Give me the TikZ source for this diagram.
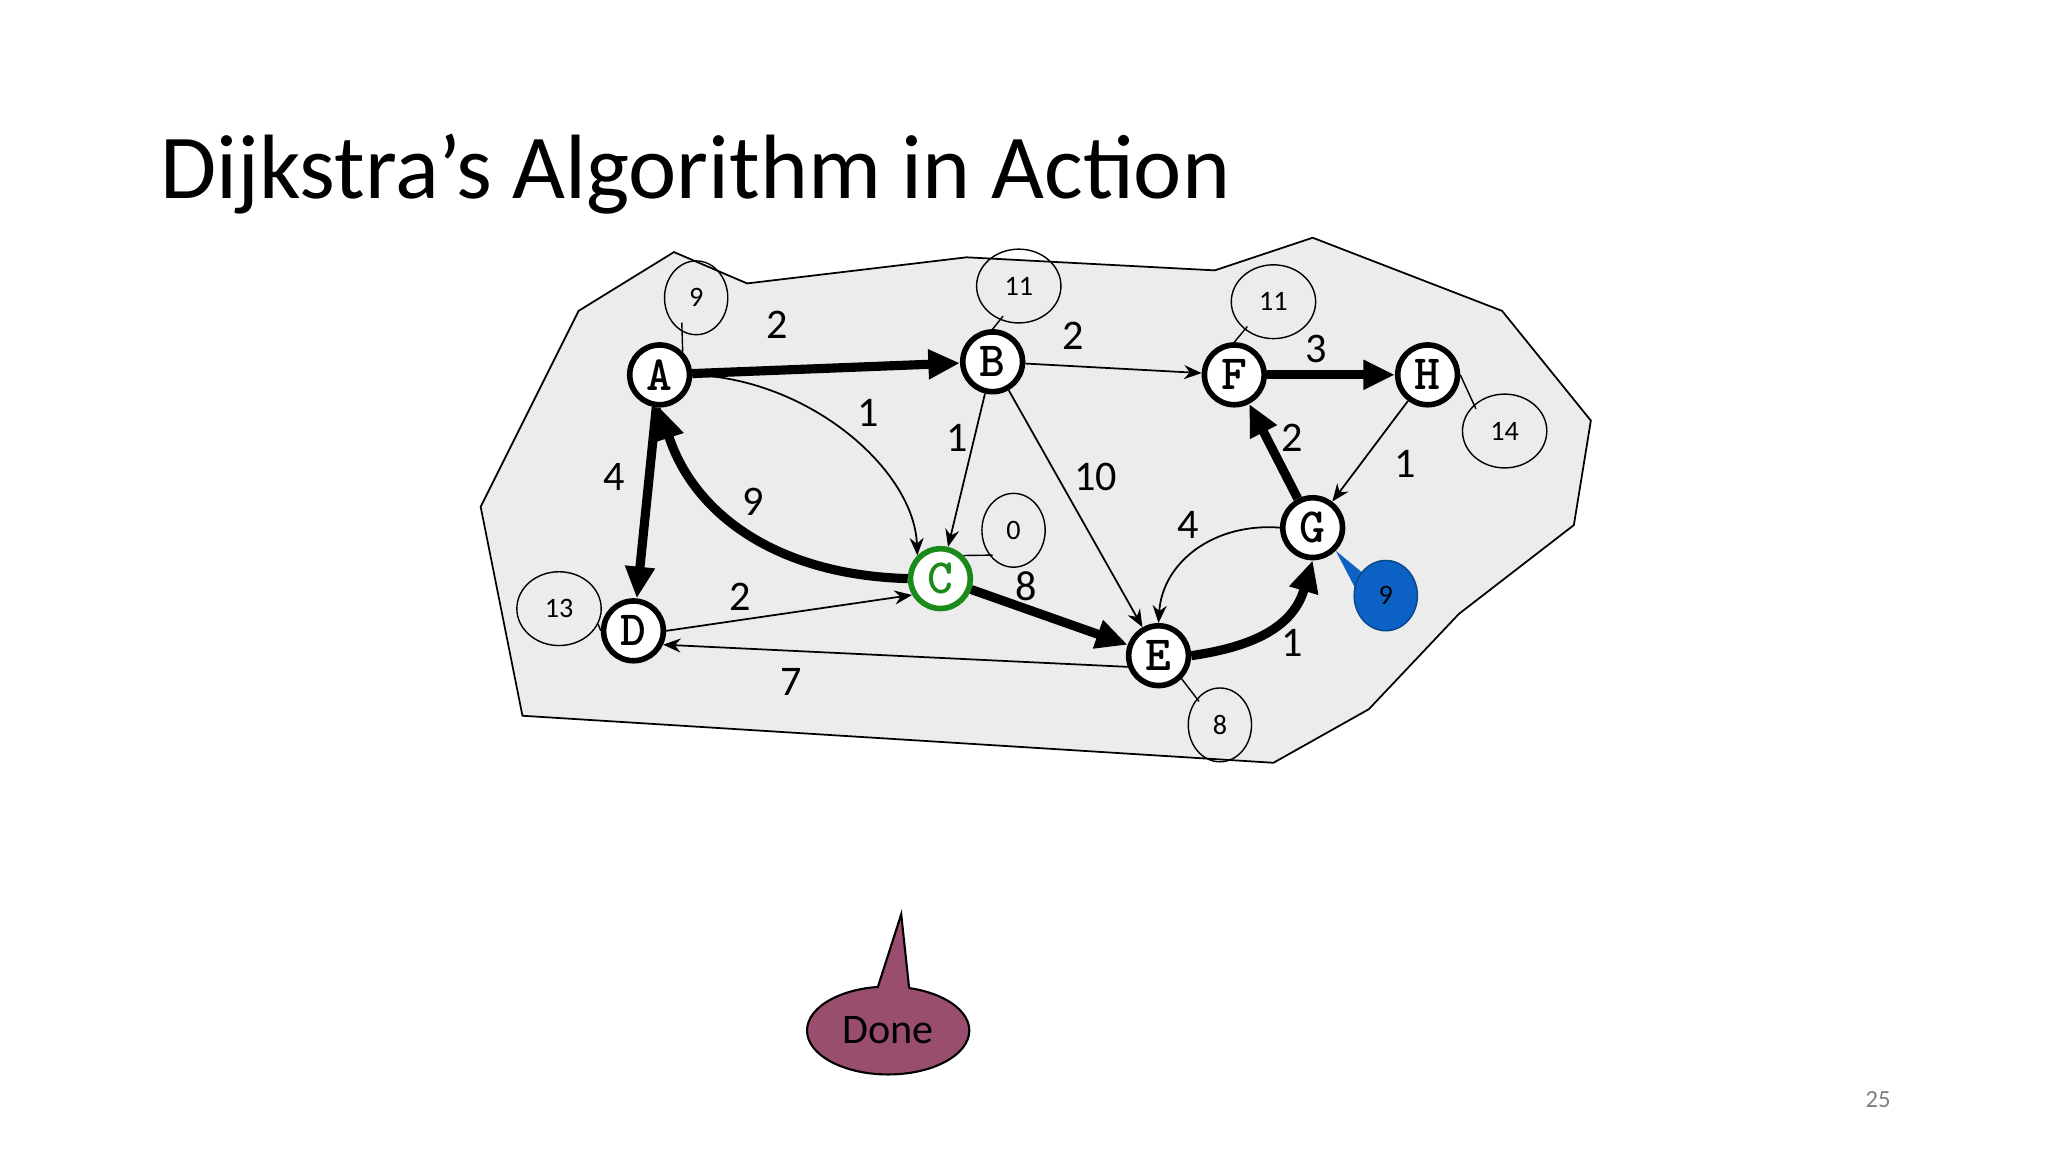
\documentclass[tikz,border=0pt]{standalone}
\usepackage{fontspec}
\setmainfont{Carlito}
\usetikzlibrary{arrows.meta,shapes.geometric}
\definecolor{regiongray}{HTML}{ECECEC}
\definecolor{donepurple}{HTML}{9A4E6E}
\definecolor{gblue}{HTML}{0B62C4}
\definecolor{cgreen}{HTML}{1A8A1A}
\begin{document}
\begin{tikzpicture}[x=0.01306cm,y=-0.01306cm,
  vert/.style={circle,draw,line width=1.6pt,fill=white,minimum size=17pt,inner sep=0pt,font=\ttfamily\bfseries\fontsize{14}{14}\selectfont},
  thin/.style={-{Stealth[length=5pt,width=4pt]},line width=0.5pt},
  thick/.style={-{Triangle[length=9pt,width=8pt]},line width=2.6pt},
  wt/.style={font=\fontsize{12}{12}\selectfont},
  bub/.style={ellipse,draw,line width=0.4pt,inner sep=0pt},
  btext/.style={font=\fontsize{8}{8}\selectfont}]
\useasboundingbox (0,0) rectangle (1568,882);
\fill[white] (0,0) rectangle (1568,882);
\node[anchor=base west,font=\fontsize{26}{26}\selectfont,inner sep=0pt] (title) at (122,152) {Dijkstra’s Algorithm in Action};
\draw[fill=regiongray,line width=0.5pt] (443,238)--(516,193)--(572,217)--(740,197)--(930,207)--(1005,182)--(1150,238)--(1218,322)--(1205,402)--(1117,470)--(1048,543)--(975,584)--(400,548)--(368,388)--cycle;
% vertices
\node[vert] (A) at (505,287) {A};
\node[vert] (B) at (760,277) {B};
\node[vert] (F) at (945,287) {F};
\node[vert] (H) at (1093,287) {H};
\node[vert] (G) at (1005,404) {G};
\node[vert,draw=cgreen,text=cgreen] (C) at (720,443) {C};
\node[vert] (D) at (485,483) {D};
\node[vert] (E) at (887,502) {E};
% edges
\draw[thick] (A) -- (B);
\draw[thin] (B) -- (F);
\draw[thick] (F) -- (H);
\draw[thin] (A.east) .. controls (620,290) and (700,360) .. (C.north west);
\draw[thin] (B) -- (C);
\draw[thin] (B) -- (E);
\draw[thin] (H) -- (G);
\draw[thick] (G) -- (F);
\draw[thick] (A) -- (D);
\draw[thick] (C.west) .. controls (590,440) and (530,390) .. (A.south);
\draw[thin] (G.west) .. controls (930,400) and (890,430) .. (E.north);
\draw[thick] (C) -- (E);
\draw[thick] (E.east) .. controls (960,495) and (990,480) .. (G.south);
\draw[thin] (D.east) -- (C.-150);
\draw[thin] (E.-160) -- (D.-25);
% weights
\node[wt] (w1) at (595,249) {2};
\node[wt] (w2) at (822,257) {2};
\node[wt] (w3) at (1008,267) {3};
\node[wt] (w4) at (665,316) {1};
\node[wt] (w5) at (733,335) {1};
\node[wt] (w6) at (839,365) {10};
\node[wt] (w7) at (1076,355) {1};
\node[wt] (w8) at (989,335) {2};
\node[wt] (w9) at (470,365) {4};
\node[wt] (w10) at (577,384) {9};
\node[wt] (w11) at (910,402) {4};
\node[wt] (w12) at (786,449) {8};
\node[wt] (w13) at (989,492) {1};
\node[wt] (w14) at (567,457) {2};
\node[wt] (w15) at (606,522) {7};
% bubbles
\draw[line width=0.4pt] (522,247) -- (A.north east);
\draw[line width=0.4pt] (768,242) -- (B.north);
\draw[line width=0.4pt] (955,250) -- (F.north);
\draw[line width=0.4pt] (1130,313) -- (H.east);
\draw[line width=0.4pt] (760,425) -- (C.north east);
\draw[line width=0.4pt] (458,478) -- (D.west);
\draw[line width=0.4pt] (918,537) -- (E.south east);
\node[bub,btext,minimum width=18pt,minimum height=21pt] (bA) at (533,228) {9};
\node[bub,btext,minimum width=24pt,minimum height=21pt] (bB) at (780,219) {11};
\node[bub,btext,minimum width=24pt,minimum height=21pt] (bF) at (975,231) {11};
\node[bub,btext,minimum width=24pt,minimum height=21pt] (bH) at (1152,330) {14};
\node[bub,btext,minimum width=18pt,minimum height=21pt] (bC) at (776,406) {0};
\node[bub,btext,minimum width=24pt,minimum height=21pt] (bD) at (428,466) {13};
\node[bub,btext,minimum width=18pt,minimum height=21pt] (bE) at (934,555) {8};
\fill[gblue] (1045,440) -- (G.south east) -- (1040,455) -- cycle;
\node[ellipse,draw=gblue!70!black,fill=gblue,btext,inner sep=0pt,minimum width=18pt,minimum height=20pt] (bG) at (1061,456) {9};
% Done
\node[ellipse,draw,fill=donepurple,line width=0.6pt,minimum width=46pt,minimum height=25pt,font=\fontsize{12}{12}\selectfont] (done) at (680,789) {Done};
\fill[donepurple] (672,758) -- (690,700) -- (696,760) -- cycle;
\draw[line width=0.6pt] (672,756) -- (690,700) -- (696,756);
\node[font=\fontsize{7}{7}\selectfont,text=gray] (pg) at (1438,842) {25};
\end{tikzpicture}
\end{document}
